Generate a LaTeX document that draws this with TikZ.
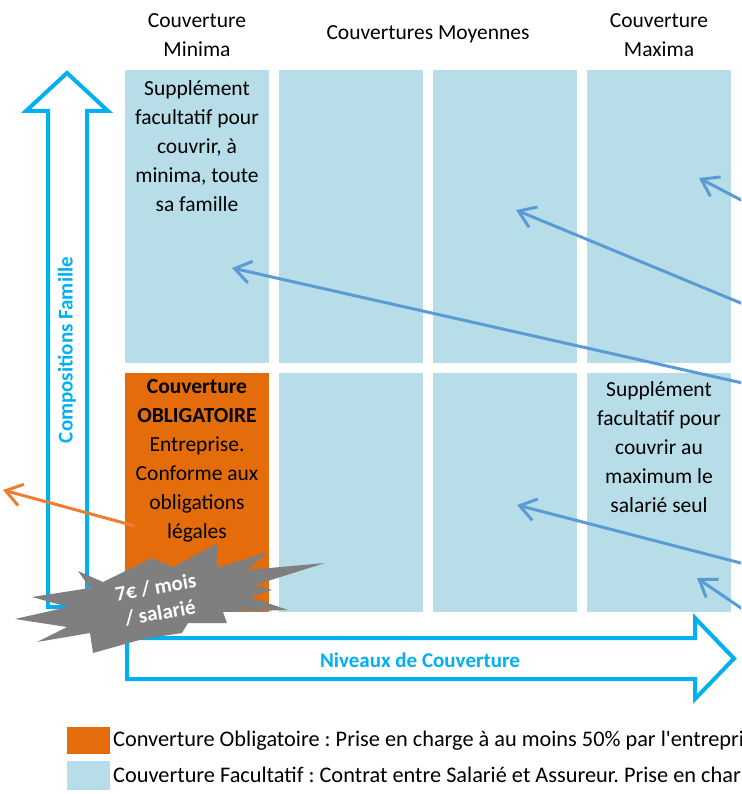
\documentclass[tikz,border=0pt]{standalone}
\usepackage{fontspec}
\setmainfont{Carlito}
\frenchspacing
\usetikzlibrary{arrows.meta}
\tikzset{
  cell/.style = {fill = cellblue, inner sep = 0pt, outer sep = 0pt, anchor = north west, minimum width = 144pt},
  celltext/.style = {align = center, font = \fontsize{21.5}{29}\selectfont, inner sep = 0pt},
  axistext/.style = {text = cyanline, font = \fontsize{21}{24}\selectfont\bfseries, inner sep = 0pt},
  axisarrow/.style = {draw = cyanline, line width = 4pt, line join = miter},
  linkarrow/.style = {draw = arrowblue, line width = 3pt, -{Straight Barb[length = 16pt, width = 22pt]}},
  legendbox/.style = {inner sep = 0pt, anchor = north west, minimum width = 43pt},
  legendtext/.style = {anchor = west, inner sep = 0pt, font = \fontsize{22.3}{24}\selectfont}
}
\begin{document}
\begin{tikzpicture}[x = 1pt, y = -1pt]
\definecolor{cyanline}{RGB}{0,176,240}
\definecolor{cellblue}{RGB}{183,222,232}
\definecolor{oblig}{RGB}{228,108,10}
\definecolor{arrowblue}{RGB}{91,155,213}
\definecolor{arroworange}{RGB}{237,125,49}
\definecolor{stargray}{RGB}{127,127,127}
\useasboundingbox (0,0) rectangle (741,794);
\clip (0,0) rectangle (741,794);
\pgfmathsetmacro\pitch{154};
\pgfmathsetmacro\topy{70};
\pgfmathsetmacro\boty{373};
\foreach \n in {0,...,3} \node [cell, minimum height = 293pt] (top\n) at (125+\pitch*\n,\topy) {};
\foreach \n in {1,...,3} \node [cell, minimum height = 239pt] (bot\n) at (125+\pitch*\n,\boty) {};
\node [cell, fill = oblig, minimum height = 239pt] (bot0) at (125,\boty) {};
\node [celltext] (hmin) at (197,35.5) {Couverture\\Minima};
\node [celltext] (hmoy) at (428,34) {Couvertures Moyennes};
\node [celltext] (hmax) at (659,35.5) {Couverture\\Maxima};
\node [celltext] (txtmin) at (197,146) {Supplément\\facultatif pour\\couvrir, à\\minima, toute\\sa famille};
\node [celltext] (txtobl) at (197,461) {\textbf{Couverture}\\\textbf{OBLIGATOIRE}\\Entreprise.\\Conforme aux\\obligations\\légales};
\node [celltext] (txtmax) at (659,447.5) {Supplément\\facultatif pour\\couvrir au\\maximum le\\salarié seul};
\draw [axisarrow] (48,607) -- (48,111) -- (26,111) -- (67,73) -- (108,111) -- (87,111) -- (87,607) -- cycle;
\node [axistext, rotate = 90] (famille) at (67,350) {Compositions Famille};
\draw [axisarrow] (127,638) -- (695,638) -- (695,618) -- (734,658.5) -- (695,699) -- (695,679) -- (127,679) -- cycle;
\node [axistext] (niveaux) at (420,660) {Niveaux de Couverture};
\coordinate (s1) at (760,210); \coordinate (t1) at (699,178);
\coordinate (s2) at (760,311); \coordinate (t2) at (516,210);
\coordinate (s3) at (760,387); \coordinate (t3) at (232,268);
\coordinate (s4) at (760,568); \coordinate (t4) at (517,505);
\coordinate (s5) at (760,621); \coordinate (t5) at (697,578);
\foreach \n in {1,...,5} \draw [linkarrow] (s\n) -- (t\n);
\coordinate (o1) at (135,526); \coordinate (o2) at (3,490);
\draw [linkarrow, draw = arroworange] (o1) -- (o2);
\fill [stargray] (78,571) -- (103,582) -- (152,558) -- (173,567) -- (218,543) -- (217,568) -- (268,552) -- (247,570) -- (325,563) -- (255,585) -- (272,590) -- (250,597) -- (288,610) -- (223,612) -- (227,623) -- (188,623) -- (182,633) -- (143,639) -- (93,653) -- (90,633) -- (37,642) -- (67,627) -- (15,619) -- (68,607) -- (32,597) -- (90,588) -- cycle;
\node [text = white, font = \fontsize{21}{26}\selectfont\bfseries, align = center, rotate = 10, inner sep = 0pt] (prix) at (158,600) {7€ / mois\\/ salarié};
\node [legendbox, fill = oblig, minimum height = 27pt] (legobl) at (67,727) {};
\node [legendbox, fill = cellblue, minimum height = 29pt] (legfac) at (67,761) {};
\node [legendtext] (txtlegobl) at (113,741) {Converture Obligatoire : Prise en charge à au moins 50\% par l\textquotesingle entrepri};
\node [legendtext] (txtlegfac) at (113,775) {Couverture Facultatif : Contrat entre Salarié et Assureur. Prise en char};
\end{tikzpicture}
\end{document}
